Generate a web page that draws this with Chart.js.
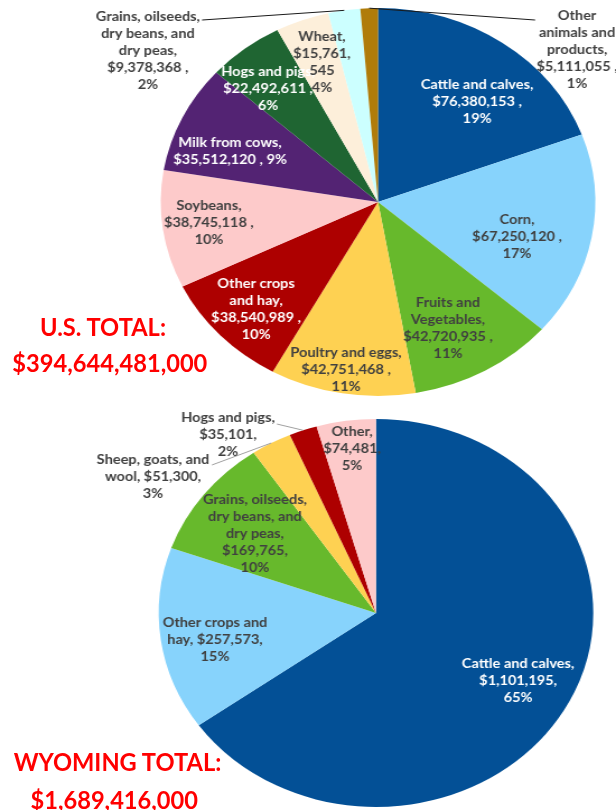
<!DOCTYPE html>
<html>
<head>
<meta charset="utf-8">
<script src="https://cdn.jsdelivr.net/npm/chart.js@4/dist/chart.umd.min.js"></script>
<style>
  html, body { margin:0; padding:0; background:#fff; width:616px; height:810px; overflow:hidden; }
  #stage { position:absolute; left:0; top:0; width:550px; height:810px; transform:scaleX(1.12); transform-origin:0 0; }
  canvas { position:absolute; left:0; }
  .total { position:absolute; color:#ff0000; font-family:Lato, sans-serif; font-weight:bold; font-size:24px; text-align:center; white-space:nowrap; line-height:1; transform:scaleX(0.88); transform-origin:50% 50%; }
</style>
</head>
<body>
<div id="stage">
  <canvas id="us" width="550" height="410" style="top:0;width:550px;height:410px"></canvas>
  <canvas id="wy" width="550" height="402" style="top:408px;width:550px;height:402px"></canvas>
  <div class="total" id="usT1" style="left:0;width:184px;top:315px">U.S. TOTAL:</div>
  <div class="total" id="usT2" style="left:0;width:184px;top:351px">$394,644,481,000</div>
  <div class="total" id="wyT1" style="left:0;width:204px;top:750px">WYOMING TOTAL:</div>
  <div class="total" id="wyT2" style="left:0;width:204px;top:788px">$1,689,416,000</div>
</div>
<script>
// ---------- U.S. data (thousands of dollars) ----------
const usCategories = ["Cattle and calves","Corn","Fruits and Vegetables","Poultry and eggs","Other crops and hay","Soybeans","Milk from cows","Hogs and pigs","Wheat","Grains, oilseeds, dry beans, and dry peas","Other animals and products"];
const usValues = [76380153, 67250120, 42720935, 42751468, 38540989, 38745118, 35512120, 22492611, 15761545, 9378368, 5111055];
const usColors = ["#035096","#87D3FC","#67B92C","#FED152","#AD0000","#FDCACA","#532373","#1F6532","#FDEFDA","#CCFFFF","#B07C0A"];
const usLabelLines = [
  ["Cattle and calves,","$76,380,153 ,","19%"],
  ["Corn,","$67,250,120 ,","17%"],
  ["Fruits and","Vegetables,","$42,720,935 ,","11%"],
  ["Poultry and eggs,","$42,751,468 ,","11%"],
  ["Other crops","and hay,","$38,540,989 ,","10%"],
  ["Soybeans,","$38,745,118 ,","10%"],
  ["Milk from cows,","$35,512,120 , 9%"],
  ["Hogs and pigs,","$22,492,611 ,","6%"],
  ["Wheat,","$15,761,","545","4%"],
  ["Grains, oilseeds,","dry beans, and","dry peas,","$9,378,368 ,","2%"],
  ["Other","animals and","products,","$5,111,055 ,","1%"]
];
const usTextColors = ["#fff","#404040","#404040","#404040","#fff","#404040","#fff","#fff","#404040","#404040","#404040"];
// label centre as fraction of radius from pie centre
const usLabelPos = [[0.456,-0.515],[0.640,0.180],[0.322,0.649],[-0.147,0.866],[-0.561,0.552],[-0.778,0.108],[-0.681,-0.263],[-0.506,-0.582],[-0.258,-0.719],[-1.059,-0.781],[0.916,-0.784]];
// leader lines: start point (fraction of radius) or null
const usLeaders = [null,null,null,null,null,null,null,null,null,[-0.810,-0.938],[0.723,-0.938]];

// ---------- Wyoming data (thousands of dollars) ----------
const wyCategories = ["Cattle and calves","Other crops and hay","Grains, oilseeds, dry beans, and dry peas","Sheep, goats, and wool","Hogs and pigs","Other"];
const wyValues = [1101195, 257573, 169765, 51300, 35101, 74481];
const wyColors = ["#035096","#87D3FC","#67B92C","#FED152","#AD0000","#FDCACA"];
const wyLabelLines = [
  ["Cattle and calves,","$1,101,195,","65%"],
  ["Other crops and","hay, $257,573,","15%"],
  ["Grains, oilseeds,","dry beans, and","dry peas,","$169,765,","10%"],
  ["Sheep, goats, and","wool, $51,300,","3%"],
  ["Hogs and pigs,","$35,101,","2%"],
  ["Other,","$74,481,","5%"]
];
const wyTextColors = ["#fff","#404040","#404040","#404040","#404040","#404040"];
const wyLabelPos = [[0.654,0.351],[-0.741,0.139],[-0.557,-0.407],[-1.026,-0.701],[-0.681,-0.918],[-0.110,-0.845]];
const wyLeaders = [null,null,null,[-0.755,-0.763],[-0.456,-0.974],null];

const FONT = "bold 13px Lato, 'Open Sans', sans-serif";
const LINE_H = 17;

function labelPlugin(lines, textColors, pos, leaders, leaderColor) {
  return {
    id: 'sliceLabels',
    afterDatasetsDraw(chart) {
      const ctx = chart.ctx;
      const arcs = chart.getDatasetMeta(0).data;
      ctx.save();
      ctx.font = FONT;
      ctx.textAlign = 'center';
      ctx.textBaseline = 'middle';
      arcs.forEach((arc, i) => {
        const R = arc.outerRadius;
        const lx = arc.x + pos[i][0] * R;
        const ly = arc.y + pos[i][1] * R;
        if (leaders[i]) {
          const mid = (arc.startAngle + arc.endAngle) / 2;
          ctx.beginPath();
          ctx.strokeStyle = leaderColor;
          ctx.lineWidth = 1;
          ctx.moveTo(arc.x + leaders[i][0] * R, arc.y + leaders[i][1] * R);
          ctx.lineTo(arc.x + Math.cos(mid) * R, arc.y + Math.sin(mid) * R);
          ctx.stroke();
        }
        ctx.fillStyle = textColors[i];
        const L = lines[i];
        const y0 = ly - (L.length - 1) * LINE_H / 2;
        L.forEach((t, k) => ctx.fillText(t, lx, y0 + k * LINE_H));
      });
      ctx.restore();
    }
  };
}

function makePie(id, cats, vals, cols, pad, plugin) {
  return new Chart(document.getElementById(id), {
    type: 'pie',
    data: { labels: cats, datasets: [{ data: vals, backgroundColor: cols, borderWidth: 0 }] },
    options: {
      responsive: false,
      animation: false,
      layout: { padding: pad },
      plugins: { legend: { display: false }, tooltip: { enabled: false } }
    },
    plugins: [plugin]
  });
}

makePie('us', usCategories, usValues, usColors,
  { left: 143.5, right: 18.5, top: 8, bottom: 14 },
  labelPlugin(usLabelLines, usTextColors, usLabelPos, usLeaders, '#1a1a1a'));
makePie('wy', wyCategories, wyValues, wyColors,
  { left: 141.7, right: 20.3, top: 11, bottom: 3 },
  labelPlugin(wyLabelLines, wyTextColors, wyLabelPos, wyLeaders, '#a0a0a0'));
</script>
</body>
</html>
